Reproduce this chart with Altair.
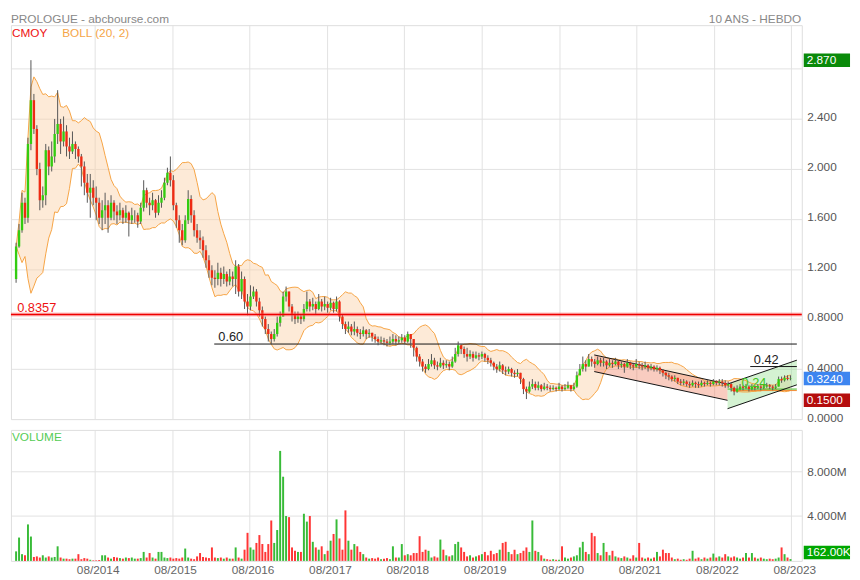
import altair as alt
import pandas as pd
import numpy as np

# ---------------- data (bi-weekly candles) ----------------
first_open = 1.12
close = [
1.38, 1.51, 1.73, 1.61, 2.20, 2.55, 2.32, 2.00, 1.75, 1.79,
2.15, 2.02, 2.10, 2.28, 2.36, 2.22, 2.30, 2.18, 2.14, 2.20,
2.16, 2.10, 2.02, 1.89, 1.81, 1.85, 1.77, 1.73, 1.61, 1.67,
1.71, 1.61, 1.73, 1.66, 1.63, 1.67, 1.61, 1.65, 1.59, 1.63,
1.63, 1.58, 1.69, 1.83, 1.73, 1.71, 1.75, 1.65, 1.73, 1.77,
1.89, 1.97, 1.91, 1.71, 1.59, 1.51, 1.43, 1.59, 1.76, 1.63,
1.51, 1.45, 1.43, 1.35, 1.27, 1.19, 1.13, 1.12, 1.17, 1.12,
1.16, 1.10, 1.14, 1.12, 1.22, 1.02, 1.12, 0.94, 0.90, 0.98,
1.02, 0.94, 0.87, 0.80, 0.72, 0.68, 0.64, 0.68, 0.77, 0.82,
0.98, 1.02, 0.90, 0.84, 0.80, 0.82, 0.80, 0.88, 0.94, 0.90,
0.92, 0.88, 0.94, 0.90, 0.92, 0.89, 0.93, 0.88, 0.94, 0.82,
0.76, 0.72, 0.74, 0.70, 0.72, 0.69, 0.68, 0.71, 0.68, 0.69,
0.66, 0.64, 0.62, 0.63, 0.62, 0.61, 0.62, 0.64, 0.62, 0.63,
0.65, 0.62, 0.68, 0.64, 0.57, 0.50, 0.46, 0.42, 0.40, 0.44,
0.47, 0.43, 0.42, 0.45, 0.43, 0.44, 0.42, 0.46, 0.52, 0.59,
0.56, 0.52, 0.50, 0.52, 0.49, 0.51, 0.50, 0.52, 0.49, 0.47,
0.45, 0.42, 0.40, 0.43, 0.39, 0.38, 0.40, 0.37, 0.36, 0.37,
0.32, 0.24, 0.22, 0.26, 0.28, 0.25, 0.27, 0.24, 0.26, 0.25,
0.24, 0.25, 0.24, 0.26, 0.24, 0.25, 0.27, 0.24, 0.26, 0.35,
0.40, 0.44, 0.42, 0.48, 0.46, 0.44, 0.47, 0.45, 0.46, 0.43,
0.45, 0.44, 0.46, 0.43, 0.44, 0.42, 0.45, 0.43, 0.42, 0.44,
0.43, 0.42, 0.43, 0.41, 0.42, 0.40, 0.41, 0.39, 0.37, 0.35,
0.34, 0.32, 0.33, 0.30, 0.29, 0.30, 0.28, 0.27, 0.29, 0.28,
0.27, 0.29, 0.28, 0.29, 0.28, 0.30, 0.29, 0.30, 0.29, 0.27,
0.28, 0.25, 0.22, 0.24, 0.26, 0.25, 0.26, 0.24, 0.26, 0.25,
0.26, 0.25, 0.26, 0.27, 0.26, 0.25, 0.26, 0.32, 0.31, 0.33, 0.32, 0.324]

high = [
1.41, 1.56, 1.81, 1.77, 2.25, 2.87, 2.60, 2.35, 2.05, 1.86,
2.20, 2.18, 2.22, 2.40, 2.63, 2.40, 2.42, 2.35, 2.25, 2.30,
2.22, 2.18, 2.12, 2.06, 1.96, 1.96, 1.91, 1.86, 1.77, 1.75,
1.81, 1.75, 1.79, 1.75, 1.71, 1.73, 1.69, 1.71, 1.66, 1.69,
1.67, 1.65, 1.73, 1.91, 1.85, 1.77, 1.81, 1.76, 1.79, 1.83,
1.93, 2.01, 2.10, 1.95, 1.73, 1.63, 1.56, 1.63, 1.83, 1.79,
1.67, 1.56, 1.51, 1.46, 1.39, 1.31, 1.23, 1.19, 1.25, 1.21,
1.22, 1.18, 1.20, 1.18, 1.27, 1.24, 1.18, 1.14, 1.00, 1.07,
1.06, 1.04, 0.97, 0.90, 0.82, 0.76, 0.70, 0.72, 0.82, 0.86,
1.02, 1.06, 1.02, 0.92, 0.86, 0.86, 0.84, 0.92, 1.02, 0.96,
0.97, 0.94, 1.00, 0.96, 0.98, 0.94, 0.97, 0.94, 0.98, 0.95,
0.84, 0.78, 0.78, 0.76, 0.78, 0.74, 0.72, 0.74, 0.72, 0.72,
0.69, 0.68, 0.66, 0.66, 0.65, 0.64, 0.66, 0.68, 0.67, 0.66,
0.68, 0.67, 0.70, 0.68, 0.64, 0.58, 0.52, 0.48, 0.44, 0.48,
0.52, 0.49, 0.46, 0.49, 0.47, 0.47, 0.46, 0.50, 0.57, 0.62,
0.60, 0.58, 0.57, 0.55, 0.54, 0.54, 0.53, 0.54, 0.53, 0.51,
0.49, 0.46, 0.44, 0.46, 0.44, 0.42, 0.42, 0.41, 0.39, 0.40,
0.37, 0.33, 0.26, 0.30, 0.32, 0.30, 0.30, 0.28, 0.29, 0.28,
0.27, 0.27, 0.26, 0.29, 0.27, 0.28, 0.30, 0.27, 0.29, 0.38,
0.44, 0.50, 0.47, 0.52, 0.50, 0.48, 0.50, 0.49, 0.49, 0.47,
0.48, 0.47, 0.49, 0.47, 0.46, 0.45, 0.48, 0.46, 0.45, 0.48,
0.46, 0.45, 0.46, 0.44, 0.44, 0.43, 0.43, 0.42, 0.40, 0.38,
0.37, 0.35, 0.35, 0.33, 0.32, 0.32, 0.31, 0.30, 0.31, 0.30,
0.30, 0.31, 0.30, 0.31, 0.30, 0.32, 0.31, 0.32, 0.32, 0.31,
0.30, 0.29, 0.26, 0.27, 0.28, 0.27, 0.28, 0.27, 0.28, 0.27,
0.28, 0.27, 0.28, 0.29, 0.28, 0.27, 0.28, 0.34, 0.34, 0.35, 0.35, 0.35]

low = [
1.09, 1.37, 1.49, 1.56, 1.57, 2.15, 2.28, 1.95, 1.67, 1.69,
1.71, 1.95, 1.98, 2.05, 2.20, 2.12, 2.18, 2.10, 2.08, 2.12,
2.08, 2.05, 1.86, 1.79, 1.73, 1.61, 1.71, 1.59, 1.56, 1.51,
1.56, 1.49, 1.59, 1.59, 1.56, 1.59, 1.56, 1.57, 1.46, 1.56,
1.57, 1.53, 1.56, 1.66, 1.69, 1.63, 1.67, 1.61, 1.63, 1.69,
1.75, 1.87, 1.86, 1.67, 1.53, 1.41, 1.39, 1.41, 1.56, 1.57,
1.46, 1.41, 1.36, 1.29, 1.21, 1.13, 1.07, 1.05, 1.07, 1.06,
1.08, 1.06, 1.07, 1.06, 1.00, 0.98, 0.96, 0.88, 0.83, 0.87,
0.96, 0.90, 0.82, 0.74, 0.68, 0.62, 0.60, 0.62, 0.66, 0.74,
0.82, 0.94, 0.86, 0.78, 0.76, 0.77, 0.76, 0.78, 0.86, 0.86,
0.87, 0.84, 0.87, 0.86, 0.87, 0.85, 0.87, 0.85, 0.86, 0.78,
0.72, 0.68, 0.69, 0.67, 0.67, 0.66, 0.64, 0.66, 0.64, 0.65,
0.62, 0.61, 0.59, 0.60, 0.59, 0.58, 0.59, 0.60, 0.59, 0.60,
0.61, 0.60, 0.61, 0.57, 0.50, 0.46, 0.42, 0.38, 0.37, 0.39,
0.42, 0.40, 0.39, 0.41, 0.40, 0.41, 0.39, 0.41, 0.45, 0.50,
0.52, 0.49, 0.46, 0.48, 0.46, 0.48, 0.47, 0.48, 0.46, 0.44,
0.42, 0.39, 0.37, 0.38, 0.36, 0.35, 0.36, 0.34, 0.33, 0.34,
0.28, 0.20, 0.16, 0.21, 0.24, 0.23, 0.23, 0.22, 0.23, 0.23,
0.22, 0.23, 0.22, 0.23, 0.22, 0.23, 0.24, 0.22, 0.23, 0.25,
0.35, 0.38, 0.38, 0.42, 0.42, 0.41, 0.43, 0.42, 0.42, 0.40,
0.42, 0.41, 0.43, 0.40, 0.41, 0.37, 0.41, 0.40, 0.39, 0.41,
0.40, 0.39, 0.40, 0.38, 0.39, 0.38, 0.38, 0.36, 0.34, 0.32,
0.31, 0.30, 0.30, 0.28, 0.27, 0.27, 0.26, 0.25, 0.26, 0.25,
0.25, 0.26, 0.26, 0.27, 0.26, 0.27, 0.27, 0.27, 0.26, 0.25,
0.25, 0.22, 0.19, 0.21, 0.23, 0.23, 0.24, 0.22, 0.23, 0.23,
0.24, 0.23, 0.24, 0.25, 0.24, 0.23, 0.24, 0.26, 0.29, 0.30, 0.31, 0.31]

volume_m = [
0.85, 2.08, 0.6, 0.5, 3.25, 2.17, 0.35, 0.4, 0.3, 0.5,
0.3, 0.4, 0.3, 0.35, 1.3, 0.3, 0.2, 0.2, 0.15, 0.2,
0.2, 0.6, 0.15, 0.25, 0.2, 0.1, 0.05, 0.05, 0.08, 0.5,
0.5, 0.3, 0.2, 0.35, 0.3, 0.25, 0.2, 0.3, 0.25, 0.3,
0.2, 0.2, 0.25, 0.8, 0.3, 0.7, 0.3, 0.2, 0.8, 0.8,
0.3, 0.25, 0.3, 0.2, 0.25, 0.2, 0.3, 1.1, 0.3, 0.2,
0.15, 0.4, 0.7, 0.35, 0.3, 0.25, 1.2, 0.3, 0.25, 0.3,
0.2, 0.3, 0.2, 0.2, 1.2, 0.3, 0.2, 1.0, 2.5, 1.2,
1.0, 1.6, 2.3, 1.5, 0.8, 1.5, 3.6, 1.6, 2.75, 9.8,
7.5, 4.0, 3.9, 1.2, 0.9, 0.8, 0.8, 4.2, 3.5, 4.0,
1.7, 1.2, 1.0, 1.3, 0.6, 0.9, 1.8, 2.4, 3.7, 2.0,
1.0, 4.5, 1.8, 1.0, 1.5, 1.3, 0.8, 0.6, 0.3, 0.2,
0.25, 0.2, 0.3, 0.15, 0.2, 0.25, 0.15, 1.3, 0.3, 0.3,
1.5, 0.5, 0.6, 0.5, 0.7, 0.7, 2.2, 0.8, 1.0, 0.9,
0.3, 0.4, 0.3, 1.9, 1.0, 0.5, 0.4, 0.5, 1.5, 1.7,
1.2, 0.8, 0.4, 0.5, 0.3, 0.4, 0.5, 0.6, 0.8, 0.5,
0.9, 0.6, 0.7, 1.0, 1.6, 1.7, 0.8, 0.6, 1.0, 0.6,
0.7, 0.9, 1.2, 0.8, 3.6, 0.9, 0.8, 0.5, 0.2, 0.15,
0.1, 0.15, 0.1, 0.1, 1.3, 0.3, 0.2, 0.3, 0.4, 0.5,
1.2, 1.7, 0.8, 0.6, 2.5, 2.2, 0.7, 0.5, 1.6, 0.8,
0.5, 0.9, 0.4, 0.3, 0.25, 0.4, 0.3, 0.2, 0.5, 0.3,
1.6, 0.3, 0.2, 0.3, 0.2, 0.3, 0.8, 0.4, 1.0, 0.7,
0.7, 0.3, 0.15, 0.2, 0.1, 0.15, 0.1, 0.2, 0.9, 0.2,
0.3, 0.15, 0.3, 0.2, 0.3, 0.65, 0.3, 0.4, 0.3, 0.6,
0.4, 0.3, 0.4, 0.3, 0.2, 0.3, 0.7, 0.3, 0.7, 0.3,
0.2, 0.3, 0.2, 0.15, 0.2, 0.15, 0.2, 0.3, 1.2, 0.6, 0.3, 0.162]

# levels / trend channels
level_values = [0.60, 0.42]
level_starts = ["2016-02-16", "2023-01-19"]
level_labels = ["0.60", "0.42"]
level_label_dates = ["2016-03-06", "2023-02-05"]
support_value = 0.8357
green_level = 0.24
orange_level = 0.228
chan_desc_dates = ["2021-01-13", "2022-10-04"]
chan_desc_top = [0.513, 0.28]
chan_desc_bot = [0.38, 0.15]
chan_asc_dates = ["2022-10-04", "2023-08-27"]
chan_asc_top = [0.28, 0.471]
chan_asc_bot = [0.083, 0.274]
price_ticks = [0, 0.4, 0.8, 1.2, 1.6, 2.0, 2.4]
hidden_grid = [2.8]

FONT = "Liberation Sans"
GREEN_C = "#33cc11"
RED_C = "#ee2b13"
GRID = "#e2e2e2"
W, HP, HV = 803, 400, 133
END_DATE = "2023-08-27"

# ---------------- tables ----------------
dates = pd.date_range("2013-07-26", periods=len(close), freq="14D")
df = pd.DataFrame({
    "date": dates.strftime("%Y-%m-%dT00:00:00"),
    "close": close, "high": high, "low": low, "vol": volume_m,
})
df["open"] = [first_open] + close[:-1]
df["dir"] = np.where(df["close"] >= df["open"], "up", "down")
df["wlo"] = df[["low", "open", "close"]].min(axis=1)
df["whi"] = df[["high", "open", "close"]].max(axis=1)
mid = df["close"].rolling(10, min_periods=1).mean()
sd = df["close"].rolling(10, min_periods=1).std(ddof=0).fillna(0)
df["bb_up"] = mid + 2 * sd
df["bb_lo"] = mid - 2 * sd

x_dom = [alt.DateTime(year=2013, month=7, date=25), alt.DateTime(year=2023, month=8, date=27)]
xscale = alt.Scale(domain=x_dom)
aug = [alt.DateTime(year=y, month=8, date=1) for y in range(2014, 2024)]

x_price = alt.X("date:T", scale=xscale, title=None,
                axis=alt.Axis(values=aug, grid=True, labels=False, ticks=False, domain=False,
                              gridColor=GRID))
pscale = alt.Scale(domain=[0, 3.15])
paxis = alt.Axis(orient="right", values=price_ticks,
                 labelExpr="datum.value < 1 ? format(datum.value, '.4f') : format(datum.value, '.3f')",
                 grid=True, gridColor=GRID, ticks=False, domain=False, labelPadding=5, labelOffset=-2,
                 labelColor="#555555", labelFontSize=12, labelFont=FONT)


def py(field):
    return alt.Y(field, scale=pscale, axis=paxis, title=None)


base = alt.Chart(df)
candle_color = alt.condition("datum.dir == 'up'", alt.value(GREEN_C), alt.value(RED_C))

grid28 = alt.Chart(pd.DataFrame({"v": hidden_grid})).mark_rule(color=GRID, strokeWidth=1).encode(y=py("v:Q"))
bb_area = base.mark_area(color="#fbd0a6", opacity=0.45).encode(x=x_price, y=py("bb_lo:Q"), y2="bb_up:Q")
bb_up = base.mark_line(color="#f6a444", strokeWidth=1).encode(x=x_price, y=py("bb_up:Q"))
bb_lo = base.mark_line(color="#f6a444", strokeWidth=1).encode(x=x_price, y=py("bb_lo:Q"))

desc = pd.DataFrame({"date": chan_desc_dates, "top": chan_desc_top, "bot": chan_desc_bot})
asc = pd.DataFrame({"date": chan_asc_dates, "top": chan_asc_top, "bot": chan_asc_bot})
desc_fill = alt.Chart(desc).mark_area(color="#f07a5a", opacity=0.38).encode(x=x_price, y=py("bot:Q"), y2="top:Q")
asc_fill = alt.Chart(asc).mark_area(color="#8fdc8a", opacity=0.38).encode(x=x_price, y=py("bot:Q"), y2="top:Q")
chan_lines = []
for d in (desc, asc):
    for f in ("top", "bot"):
        chan_lines.append(alt.Chart(d).mark_line(color="#111111", strokeWidth=1).encode(x=x_price, y=py(f + ":Q")))

lev = pd.DataFrame({"v": level_values, "s": level_starts, "e": [END_DATE] * len(level_values),
                    "lab": level_labels, "ld": level_label_dates})
lev_rules = alt.Chart(lev).mark_rule(color="#111111", strokeWidth=1).encode(
    x=alt.X("s:T", scale=xscale), x2="e:T", y=py("v:Q"))
lev_text = alt.Chart(lev).mark_text(align="left", baseline="alphabetic", dy=-3, fontSize=13, font=FONT,
                                    color="#222222").encode(x=alt.X("ld:T", scale=xscale), y=py("v:Q"), text="lab:N")

gl = pd.DataFrame({"v": [green_level], "s": ["2022-10-04"], "e": [END_DATE], "lab": ["0.24"], "ld": ["2022-12-09"]})
green_rule = alt.Chart(gl).mark_rule(color="#44bb22", strokeWidth=1).encode(
    x=alt.X("s:T", scale=xscale), x2="e:T", y=py("v:Q"))
green_text = alt.Chart(gl).mark_text(align="left", baseline="alphabetic", dy=-2, fontSize=13, font=FONT,
                                     color="#3fc41c").encode(x=alt.X("ld:T", scale=xscale), y=py("v:Q"), text="lab:N")
ol = pd.DataFrame({"v": [orange_level], "s": ["2022-10-20"], "e": [END_DATE]})
orange_rule = alt.Chart(ol).mark_rule(color="#f08a30", strokeWidth=1).encode(
    x=alt.X("s:T", scale=xscale), x2="e:T", y=py("v:Q"))

wicks = base.mark_rule(color="#555555", strokeWidth=1).encode(x=x_price, y=py("wlo:Q"), y2="whi:Q")
bodies = base.mark_bar(size=2.4).encode(x=x_price, y=py("open:Q"), y2="close:Q", color=candle_color)

sup = pd.DataFrame({"v": [support_value], "lab": ["0.8357"], "ld": ["2013-07-31"]})
sup_halo = alt.Chart(sup).mark_rule(color="#ff7070", strokeWidth=4, opacity=0.45).encode(y=py("v:Q"))
sup_rule = alt.Chart(sup).mark_rule(color="#ee0000", strokeWidth=1.6).encode(y=py("v:Q"))
sup_text = alt.Chart(sup).mark_text(align="left", baseline="alphabetic", dy=-3, fontSize=13, font=FONT,
                                    color="#ee1111").encode(x=alt.X("ld:T", scale=xscale), y=py("v:Q"), text="lab:N")

BADGE = "M-1,-0.29L1,-0.29L1,0.29L-1,0.29Z"


def badge(value, label, color, yenc):
    d = pd.DataFrame({"v": [value], "lab": [label]})
    box = alt.Chart(d).mark_point(shape=BADGE, filled=True, size=2209, opacity=1, color=color,
                                  strokeWidth=0).encode(x=alt.value(W + 25.5), y=yenc)
    txt = alt.Chart(d).mark_text(align="left", baseline="middle", fontSize=12, font=FONT,
                                 color="white").encode(x=alt.value(W + 5), y=yenc, text="lab:N")
    return [box, txt]


def label(text, x, y, color, align="left", size=12):
    d = pd.DataFrame({"t": [text]})
    return alt.Chart(d).mark_text(align=align, baseline="middle", fontSize=size, font=FONT,
                                  color=color).encode(x=alt.value(x), y=alt.value(y), text="t:N")


price_layers = [grid28, bb_area, desc_fill, asc_fill, bb_up, bb_lo, lev_rules, green_rule, orange_rule,
                *chan_lines, wicks, bodies, sup_halo, sup_rule, sup_text, lev_text, green_text]
price_layers += badge(2.87, "2.870", "#0a8a0a", py("v:Q"))
price_layers += badge(0.324, "0.3240", "#3d85f0", py("v:Q"))
price_layers += badge(0.15, "0.1500", "#b50d0d", py("v:Q"))
price_layers += [
    label("CMOY", 1, 8.5, "#ee1111"),
    label("BOLL (20, 2)", 52, 8.5, "#f5a548"),
    label("PROLOGUE - abcbourse.com", 0, -6.5, "#888888"),
    label("10 ANS - HEBDO", W - 0.5, -6.5, "#888888", align="right"),
]
price = alt.layer(*price_layers).properties(width=W, height=HP)

# ---------------- volume panel ----------------
x_vol = alt.X("date:T", scale=xscale, title=None,
              axis=alt.Axis(values=aug, format="%m/%Y", grid=True, gridColor=GRID, ticks=False,
                            domain=False, labelColor="#666666", labelFontSize=12, labelFont=FONT,
                            labelPadding=4, labelOffset=3))
vscale = alt.Scale(domain=[0, 11.67])
vaxis = alt.Axis(orient="right", values=[4, 8], labelExpr="format(datum.value, '.3f') + 'M'",
                 grid=True, gridColor=GRID, ticks=False, domain=False, labelPadding=5,
                 labelColor="#555555", labelFontSize=12, labelFont=FONT)
vol_bars = base.mark_bar(size=2).encode(
    x=x_vol, y=alt.Y("vol:Q", scale=vscale, axis=vaxis, title=None),
    color=alt.condition("datum.dir == 'up'", alt.value("#38bb38"), alt.value("#ff3535")))
vol_layers = [vol_bars]
vol_layers += badge(0.75, "162.00K", "#00a600", alt.Y("v:Q", scale=vscale, axis=vaxis, title=None))
vol_layers += [label("VOLUME", 1, 7, "#55cc55")]
volume = alt.layer(*vol_layers).properties(width=W, height=HV)

chart = alt.vconcat(price, volume, spacing=5).properties(
    padding={"left": 0, "top": 0, "right": 0, "bottom": 0}
).configure_view(stroke="#dddddd", strokeWidth=1).configure(font=FONT)

chart.save("out.html", embed_options={"renderer": "svg", "actions": False})
